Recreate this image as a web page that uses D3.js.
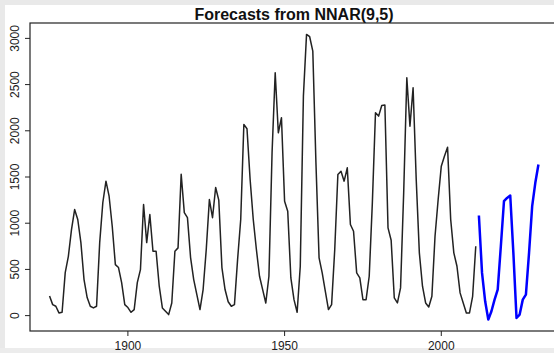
<!DOCTYPE html>
<html>
<head>
<meta charset="utf-8">
<script src="https://cdn.jsdelivr.net/npm/d3@7/dist/d3.min.js"></script>
<style>
  html, body { margin: 0; padding: 0; background: #fff; }
  svg { display: block; }
  text { font-family: "Liberation Sans", Arial, Helvetica, sans-serif; }
</style>
</head>
<body>
<div id="chart"></div>
<script>
/* global d3 */
const width = 554
const height = 353

// sunspot area, annual, 1875-2011
const startYear = 1875
const observed = [
  213, 119, 101, 29, 36, 465, 642, 931, 1148, 1040,
  790, 390, 195, 101, 83, 101, 790, 1224, 1455, 1292,
  967, 552, 520, 357, 119, 87, 36, 65, 357, 498,
  1202, 790, 1094, 696, 696, 318, 83, 47, 11, 137,
  696, 733, 1530, 1115, 1060, 628, 390, 227, 65, 282,
  715, 1256, 1060, 1386, 1250, 520, 282, 150, 101, 119,
  606, 1040, 2069, 2022, 1473, 1040, 715, 426, 282, 137,
  426, 1762, 2628, 1979, 2141, 1238, 1130, 408, 173, 36,
  534, 2375, 3043, 3018, 2863, 1654, 625, 462, 263, 65,
  119, 715, 1527, 1563, 1455, 1599, 986, 913, 462, 408,
  173, 173, 426, 1220, 2195, 2159, 2274, 2278, 950, 815,
  192, 137, 300, 1329, 2574, 2050, 2466, 1473, 679, 318,
  137, 94, 209, 859, 1256, 1617, 1725, 1823, 1040, 679,
  534, 246, 137, 29, 29, 209, 751
]
// NNAR(9,5) point forecasts, 2012-2031
const forecast = [
  1083, 462, 155, -43, 47, 173, 282, 751, 1238, 1274,
  1300, 679, -25, 11, 173, 227, 679, 1184, 1437, 1635
]
const xTicks = [1900, 1950, 2000]
const yTicks = [0, 500, 1000, 1500, 2000, 2500, 3000]
const title = 'Forecasts from NNAR(9,5)'

const obsData = observed.map((v, i) => ({ year: startYear + i, value: v }))
const fcStart = startYear + observed.length
const fcData = forecast.map((v, i) => ({ year: fcStart + i, value: v }))

const plot = { left: 30, top: 23, right: 558, bottom: 331 }

// R style 4% padding on both axes
const allYears = obsData.concat(fcData).map((d) => d.year)
const allVals = obsData.concat(fcData).map((d) => d.value)
const xExt = d3.extent(allYears)
const yExt = d3.extent(allVals)
const xPad = (xExt[1] - xExt[0]) * 0.04
const yPad = (yExt[1] - yExt[0]) * 0.04

const x = d3.scaleLinear()
  .domain([xExt[0] - xPad, xExt[1] + xPad])
  .range([plot.left, plot.right])
const y = d3.scaleLinear()
  .domain([yExt[0] - yPad, yExt[1] + yPad])
  .range([plot.bottom, plot.top])

const svg = d3.select('#chart')
  .append('svg')
  .attr('width', width)
  .attr('height', height)

// light frame round the screenshot
svg.append('rect').attr('x', 0).attr('y', 0).attr('width', width).attr('height', 5).attr('fill', '#e9e9e9')
svg.append('rect').attr('x', 0).attr('y', 0).attr('width', 5).attr('height', height).attr('fill', '#e9e9e9')
svg.append('rect').attr('x', 0).attr('y', height - 5).attr('width', width).attr('height', 5).attr('fill', '#ececec')

svg.append('text')
  .attr('x', (plot.left + plot.right) / 2)
  .attr('y', 20)
  .attr('text-anchor', 'middle')
  .attr('font-size', 16)
  .attr('font-weight', 'bold')
  .attr('fill', '#111')
  .text(title)

const line = d3.line()
  .x((d) => x(d.year))
  .y((d) => y(d.value))

svg.append('path')
  .datum(obsData)
  .attr('d', line)
  .attr('fill', 'none')
  .attr('stroke', '#222')
  .attr('stroke-width', 1.5)
  .attr('stroke-linejoin', 'round')

svg.append('path')
  .datum(fcData)
  .attr('d', line)
  .attr('fill', 'none')
  .attr('stroke', '#0000ff')
  .attr('stroke-width', 2.5)
  .attr('stroke-linejoin', 'round')

// box
svg.append('rect')
  .attr('x', plot.left)
  .attr('y', plot.top)
  .attr('width', plot.right - plot.left)
  .attr('height', plot.bottom - plot.top)
  .attr('fill', 'none')
  .attr('stroke', '#222')
  .attr('stroke-width', 1.2)

// x axis
const xAxis = svg.append('g')
xAxis.selectAll('line')
  .data(xTicks)
  .enter()
  .append('line')
  .attr('x1', (d) => x(d))
  .attr('x2', (d) => x(d))
  .attr('y1', plot.bottom)
  .attr('y2', plot.bottom + 5)
  .attr('stroke', '#222')
xAxis.selectAll('text')
  .data(xTicks)
  .enter()
  .append('text')
  .attr('x', (d) => x(d))
  .attr('y', 350)
  .attr('text-anchor', 'middle')
  .attr('font-size', 12)
  .attr('fill', '#222')
  .text((d) => d)

// y axis
const yAxis = svg.append('g')
yAxis.selectAll('line')
  .data(yTicks)
  .enter()
  .append('line')
  .attr('x1', plot.left - 5)
  .attr('x2', plot.left)
  .attr('y1', (d) => y(d))
  .attr('y2', (d) => y(d))
  .attr('stroke', '#222')
yAxis.selectAll('text')
  .data(yTicks)
  .enter()
  .append('text')
  .attr('transform', (d) => `translate(18.5, ${y(d)}) rotate(-90)`)
  .attr('text-anchor', 'middle')
  .attr('font-size', 12)
  .attr('fill', '#222')
  .text((d) => d)
</script>
</body>
</html>
